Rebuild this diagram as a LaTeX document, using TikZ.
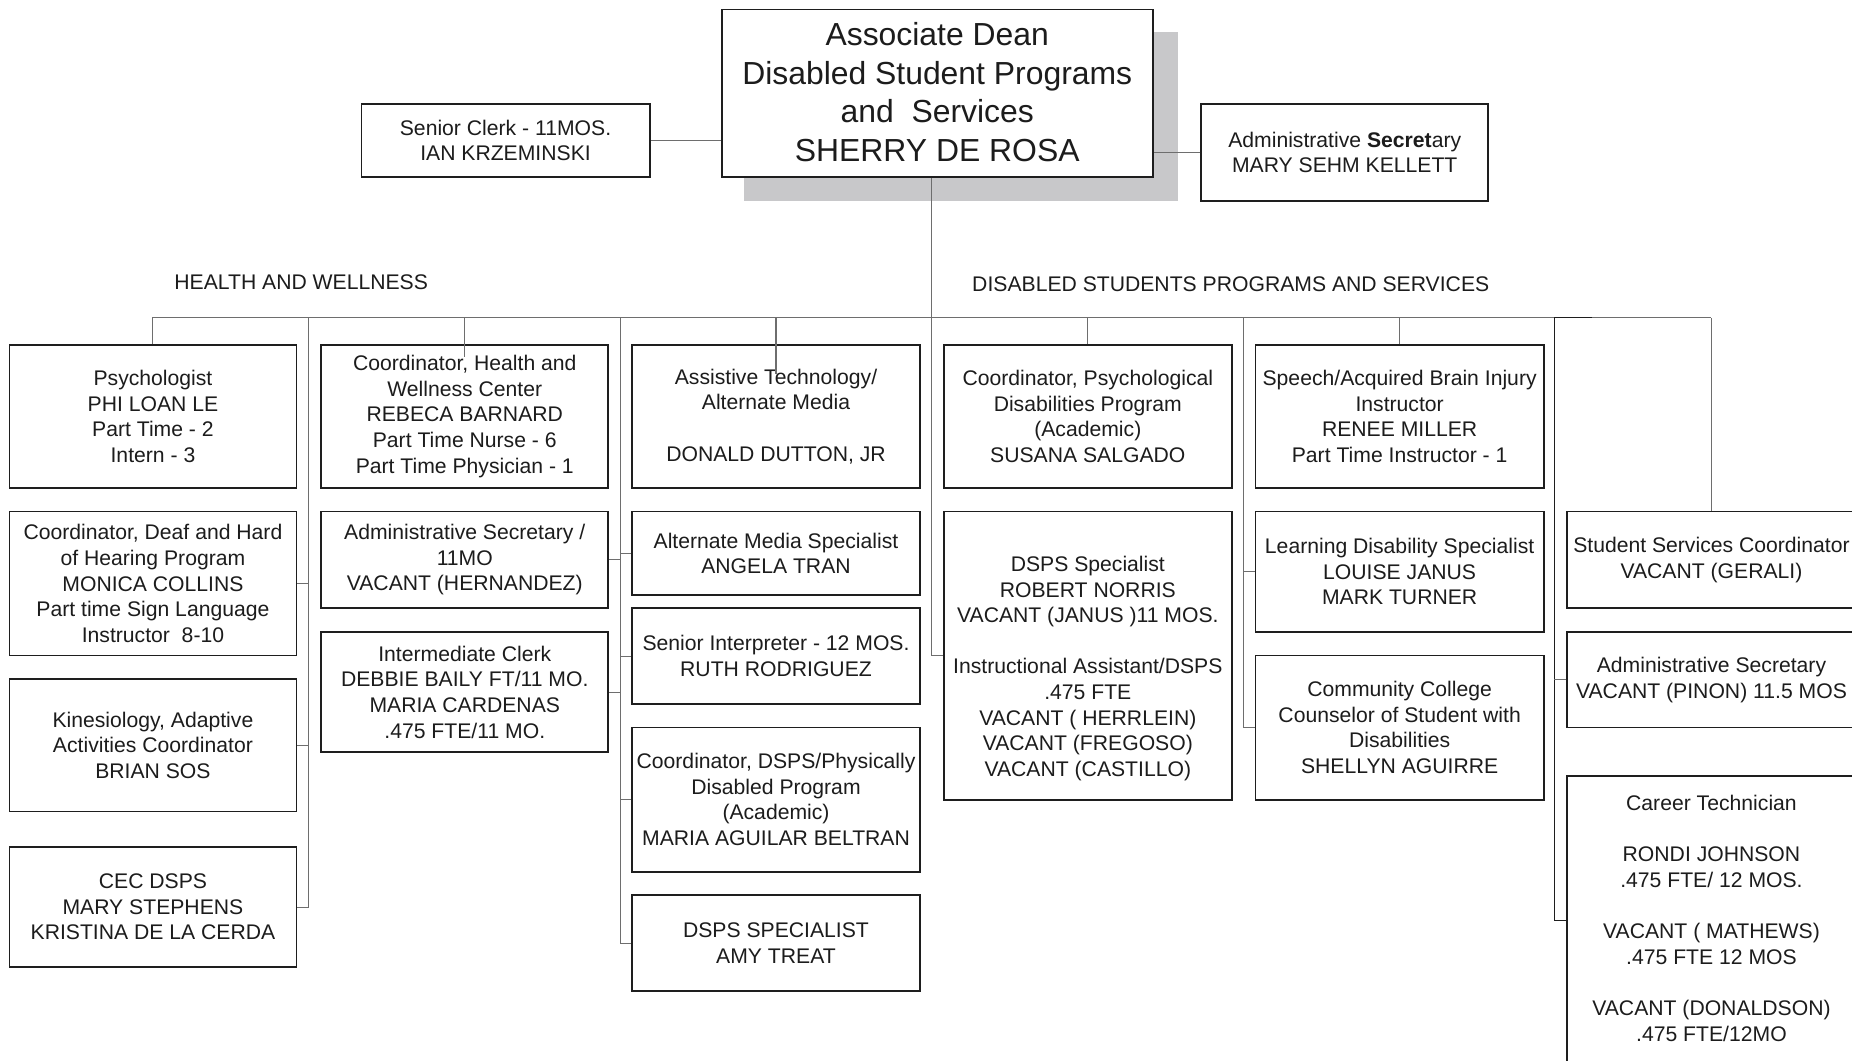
\documentclass[tikz,border=0pt]{standalone}
\usepackage{fontspec}
\setmainfont{Liberation Sans}
\usetikzlibrary{fit}
\definecolor{boxline}{RGB}{30,30,30}
\definecolor{connline}{RGB}{110,110,110}
\definecolor{shadowgray}{RGB}{200,200,202}
\definecolor{ink}{RGB}{28,28,28}
\begin{document}
\begin{tikzpicture}[x=0.6pt,y=-0.6pt,
  font=\fontsize{10.75}{13}\selectfont,
  box/.style={draw=boxline, line width=0.9pt, fill=white, inner sep=0pt},
  lbl/.style={inner sep=0pt, align=center, text=ink},
  tb/.style={label={[lbl]center:{#1}}},
  conn/.style={draw=connline, line width=0.55pt},
  hdr/.style={inner sep=0pt, text=ink},
  deanfont/.style={font=\fontsize{16.2}{19.5}\selectfont}]
\useasboundingbox (0,0) rectangle (1568,898);
\clip (0,0) rectangle (1568,898);
\fill[white] (0,0) rectangle (1568,898);

% top level
\fill[shadowgray] (630,27) rectangle (997,170);
\node[box, fit={(611,8) (976,150)},
  label={[lbl,deanfont,yshift=0.6pt]center:{Associate Dean\\Disabled Student Programs\\and\ \ Services\\SHERRY DE ROSA}}] (dean) {};
\node[box, fit={(306,88) (550,150)}, tb={Senior Clerk - 11MOS.\\IAN KRZEMINSKI}] (clerk) {};
\node[box, fit={(1017,88) (1260,170)}, tb={Administrative \textbf{Secret}ary\\MARY SEHM KELLETT}] (admtop) {};

% headers
\node[hdr] (hw) at (255,239) {HEALTH AND WELLNESS};
\node[hdr] (dsp) at (1042,241) {DISABLED STUDENTS PROGRAMS AND SERVICES};

% column 1
\node[box, fit={(8,292) (251,413)}, tb={Psychologist\\PHI LOAN LE\\Part Time - 2\\Intern - 3}] (psych) {};
\node[box, fit={(8,433) (251,555)}, tb={Coordinator, Deaf and Hard\\of Hearing Program\\MONICA COLLINS\\Part time Sign Language\\Instructor\ \ 8-10}] (deaf) {};
\node[box, fit={(8,575) (251,687)}, tb={Kinesiology, Adaptive\\Activities Coordinator\\BRIAN SOS}] (kin) {};
\node[box, fit={(8,717) (251,819)}, tb={CEC DSPS\\MARY STEPHENS\\KRISTINA DE LA CERDA}] (cec) {};

% column 2
\node[box, fit={(272,292) (515,413)}, tb={Coordinator, Health and\\Wellness Center\\REBECA BARNARD\\Part Time Nurse - 6\\Part Time Physician - 1}] (cohw) {};
\node[box, fit={(272,433) (515,515)}, tb={Administrative Secretary /\\11MO\\VACANT (HERNANDEZ)}] (adsec) {};
\node[box, fit={(272,535) (515,637)}, tb={Intermediate Clerk\\DEBBIE BAILY FT/11 MO.\\MARIA CARDENAS\\.475 FTE/11 MO.}] (iclerk) {};

% column 3
\node[box, fit={(535,292) (779,413)}, tb={Assistive Technology/\\Alternate Media\\[13pt]DONALD DUTTON, JR}] (atech) {};
\node[box, fit={(535,433) (779,504)}, tb={Alternate Media Specialist\\ANGELA TRAN}] (altm) {};
\node[box, fit={(535,515) (779,596)}, tb={Senior Interpreter - 12 MOS.\\RUTH RODRIGUEZ}] (sint) {};
\node[box, fit={(535,616) (779,738)}, tb={Coordinator, DSPS/Physically\\Disabled Program\\(Academic)\\MARIA AGUILAR BELTRAN}] (cdsps) {};
\node[box, fit={(535,758) (779,839)}, tb={DSPS SPECIALIST\\AMY TREAT}] (amy) {};

% column 4
\node[box, fit={(799,292) (1043,413)}, tb={Coordinator, Psychological\\Disabilities Program\\(Academic)\\SUSANA SALGADO}] (cpsy) {};
\node[box, fit={(799,433) (1043,677)},
  label={[lbl,yshift=-6.6pt]center:{DSPS Specialist\\ROBERT NORRIS\\VACANT (JANUS )11 MOS.\\[13pt]Instructional Assistant/DSPS\\.475 FTE\\VACANT ( HERRLEIN)\\VACANT (FREGOSO)\\VACANT (CASTILLO)}}] (dsps) {};

% column 5
\node[box, fit={(1063,292) (1307,413)}, tb={Speech/Acquired Brain Injury\\Instructor\\RENEE MILLER\\Part Time Instructor - 1}] (speech) {};
\node[box, fit={(1063,433) (1307,535)}, tb={Learning Disability Specialist\\LOUISE JANUS\\MARK TURNER}] (ld) {};
\node[box, fit={(1063,555) (1307,677)}, tb={Community College\\Counselor of Student with\\Disabilities\\SHELLYN AGUIRRE}] (comm) {};

% column 6
\node[box, fit={(1327,433) (1571,515)}, tb={Student Services Coordinator\\VACANT (GERALI)}] (ssc) {};
\node[box, fit={(1327,535) (1571,616)}, tb={Administrative Secretary\\VACANT (PINON) 11.5 MOS}] (asp) {};
\node[box, fit={(1327,657) (1571,902)},
  label={[lbl,yshift=1.2pt]center:{Career Technician\\[13pt]RONDI JOHNSON\\.475 FTE/ 12 MOS.\\[13pt]VACANT ( MATHEWS)\\.475 FTE 12 MOS\\[13pt]VACANT (DONALDSON)\\.475 FTE/12MO}}] (ctech) {};

% bus coordinates
\coordinate (busL) at (129,269);
\coordinate (busR) at (1449,269);
\coordinate (c1) at (261,269);
\coordinate (c3) at (525,269);
\coordinate (c5) at (1053,269);
\coordinate (c6) at (1316,269);
\coordinate (c6e) at (1348,269);

% connectors
\draw[conn] (clerk.east) -- (clerk.east -| dean.west);
\draw[conn] (admtop.west) -- (admtop.west -| dean.east);
\draw[conn] (busL) -- (busR);
\draw[conn] (psych.north) -- (psych.north |- busL);
\draw[conn] (c1) |- (cec.east);
\draw[conn] (deaf.east) -- (deaf.east -| c1);
\draw[conn] (kin.east) -- (kin.east -| c1);
\draw[conn] (cohw.north |- busL) -- ([yshift=-6.6pt]cohw.north);
\draw[conn] (c3) |- (amy.west);
\draw[conn] (adsec.east) -- (adsec.east -| c3);
\draw[conn] (iclerk.east) -- (iclerk.east -| c3);
\draw[conn] (altm.west) -- (altm.west -| c3);
\draw[conn] (sint.west) -- (sint.west -| c3);
\draw[conn] (cdsps.west) -- (cdsps.west -| c3);
\draw[conn] (atech.north |- busL) -- ([yshift=-15pt]atech.north);
\draw[conn] ([xshift=-2.7pt]dean.south) |- (dsps.west);
\draw[conn] (cpsy.north) -- (cpsy.north |- busL);
\draw[conn] (c5) |- (comm.west);
\draw[conn] (ld.west) -- (ld.west -| c5);
\draw[conn] (speech.north) -- (speech.north |- busL);
\draw[conn, draw=boxline] (c6e) -- (c6) |- (ctech.west);
\draw[conn] (asp.west) -- (asp.west -| c6);
\draw[conn] (ssc.north) -- (ssc.north |- busR);
\end{tikzpicture}
\end{document}
